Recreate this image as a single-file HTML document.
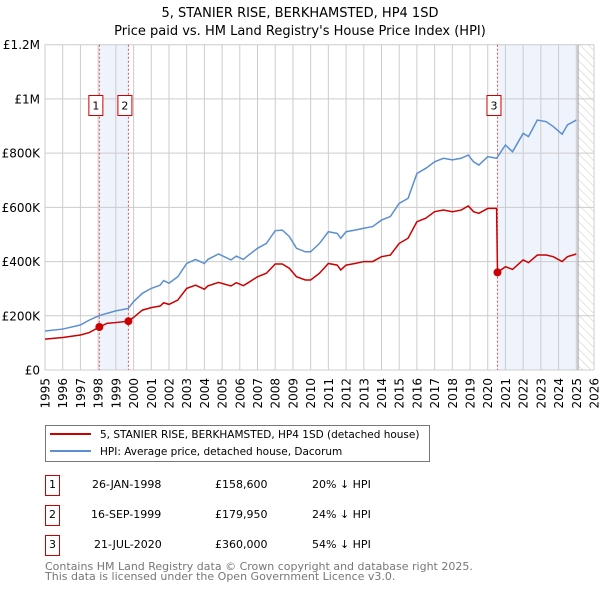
<!DOCTYPE html>
<html><head><meta charset="utf-8"><style>
body{margin:0;background:#fff;font-family:"DejaVu Sans","Liberation Sans",sans-serif;}
svg text{font-family:"DejaVu Sans","Liberation Sans",sans-serif;}
</style></head><body>
<svg id="c" width="600" height="590" xmlns="http://www.w3.org/2000/svg">
<defs><pattern id="hatch" width="6" height="6" patternUnits="userSpaceOnUse" patternTransform="rotate(-45)"><line x1="0" y1="0" x2="0" y2="6" stroke="#ccc" stroke-width="1"/></pattern></defs>
<text x="300" y="17" text-anchor="middle" font-size="13">5, STANIER RISE, BERKHAMSTED, HP4 1SD</text>
<text x="300" y="35" text-anchor="middle" font-size="13">Price paid vs. HM Land Registry's House Price Index (HPI)</text>
<g id="plot"></g>
<g>
<rect x="45.5" y="425.5" width="384" height="36" fill="#fff" stroke="#777"/>
<line x1="50" y1="434" x2="91" y2="434" stroke="#cc0000" stroke-width="2"/>
<text x="100" y="438" font-size="10.5">5, STANIER RISE, BERKHAMSTED, HP4 1SD (detached house)</text>
<line x1="50" y1="451" x2="91" y2="451" stroke="#5b8fd1" stroke-width="2"/>
<text x="100" y="455" font-size="10.5">HPI: Average price, detached house, Dacorum</text>
</g>
<g font-size="11">
<rect x="45.5" y="475.5" width="14" height="20" fill="#fff" stroke="#cc0000"/><text x="52.5" y="488" text-anchor="middle">1</text>
<text x="92" y="488">26-JAN-1998</text><text x="215" y="488">£158,600</text><text x="312" y="488">20% ↓ HPI</text>
<rect x="45.5" y="505.5" width="14" height="20" fill="#fff" stroke="#cc0000"/><text x="52.5" y="518" text-anchor="middle">2</text>
<text x="91" y="518">16-SEP-1999</text><text x="215" y="518">£179,950</text><text x="312" y="518">24% ↓ HPI</text>
<rect x="45.5" y="535.5" width="14" height="20" fill="#fff" stroke="#cc0000"/><text x="52.5" y="548" text-anchor="middle">3</text>
<text x="94" y="548">21-JUL-2020</text><text x="215" y="548">£360,000</text><text x="312" y="548">54% ↓ HPI</text>
</g>
<text x="45" y="570" font-size="11" fill="#777">Contains HM Land Registry data © Crown copyright and database right 2025.</text>
<text x="45" y="580" font-size="11" fill="#777">This data is licensed under the Open Government Licence v3.0.</text>
</svg>
<script>
const hpiYears=[1995,1996,1997,1997.5,1998,1998.5,1999,1999.7,2000,2000.5,2001,2001.5,2001.7,2002,2002.5,2003,2003.5,2004,2004.2,2004.8,2005.5,2005.8,2006.2,2006.5,2007,2007.5,2008,2008.4,2008.8,2009.2,2009.7,2010,2010.5,2011,2011.5,2011.7,2012,2012.5,2013,2013.5,2014,2014.5,2015,2015.5,2016,2016.5,2017,2017.5,2018,2018.5,2018.9,2019.2,2019.5,2020,2020.5,2021,2021.4,2022,2022.3,2022.8,2023.3,2023.7,2024.2,2024.5,2025];
const hpiValues=[144,151,166,184,199,209,218,227,252,283,301,313,330,320,344,393,408,393,408,428,406,420,408,424,449,467,514,516,492,449,436,436,467,510,504,486,510,516,523,529,553,566,615,633,725,744,768,781,775,781,793,768,756,787,781,830,805,873,861,922,916,898,870,904,922];
const priceYears=[1995,1996,1997,1997.5,1998.07,1998.5,1999,1999.71,2000,2000.5,2001,2001.5,2001.7,2002,2002.5,2003,2003.5,2004,2004.2,2004.8,2005.5,2005.8,2006.2,2006.5,2007,2007.5,2008,2008.4,2008.8,2009.2,2009.7,2010,2010.5,2011,2011.5,2011.7,2012,2012.5,2013,2013.5,2014,2014.5,2015,2015.5,2016,2016.5,2017,2017.5,2018,2018.5,2018.9,2019.2,2019.5,2020,2020.5,2020.55,2021,2021.4,2022,2022.3,2022.8,2023.3,2023.7,2024.2,2024.5,2025];
const priceValues=[114,120,129,138,158.6,172,175,179.95,194,221,230,236,248,242,258,301,313,298,310,323,310,322,311,323,344,357,391,391,375,344,332,332,357,393,387,369,387,393,400,400,418,424,467,486,547,560,584,590,584,590,605,584,578,596,596,360,381,371,406,396,424,424,418,400,418,428];
const saleYears=[1998.07,1999.71,2020.55];
const saleValues=[158.6,179.95,360];
const saleLabels=["1","2","3"];
const yTicks=[0,200,400,600,800,1000,1200];
const yTickLabels=["£0","£200K","£400K","£600K","£800K","£1M","£1.2M"];
const xTicks=[1995,1996,1997,1998,1999,2000,2001,2002,2003,2004,2005,2006,2007,2008,2009,2010,2011,2012,2013,2014,2015,2016,2017,2018,2019,2020,2021,2022,2023,2024,2025,2026];

const L=45,R=594,T=44.7,B=370;
const x=y=>L+(y-1995)/31*(R-L);
const yv=v=>B-v/1200*(B-T);
const g=document.getElementById('plot');
const NS="http://www.w3.org/2000/svg";
function mk(t,a){const e=document.createElementNS(NS,t);for(const k in a)e.setAttribute(k,a[k]);g.appendChild(e);return e;}
let e;
e=mk('rect',{x:x(saleYears[0]),y:T,width:x(saleYears[1])-x(saleYears[0]),height:B-T,fill:'#eef3fc'});


e=mk('rect',{x:x(saleYears[2]),y:T,width:x(2025.1)-x(saleYears[2]),height:B-T,fill:'#eef3fc'});


e=mk('rect',{x:x(2025.1),y:T,width:R-x(2025.1),height:B-T,fill:'url(#hatch)'});


xTicks.forEach(t=>{
 e=mk('line',{x1:x(t),x2:x(t),y1:T,y2:B,stroke:'#ccc','stroke-width':1});
 
 
 e=mk('text',{x:0,y:0,'font-size':12,'text-anchor':'end',transform:`translate(${x(t)+4.5},${B+8}) rotate(-90)`});
 e.textContent=t;
 
 
});
yTicks.forEach((t,i)=>{
 e=mk('line',{x1:L,x2:R,y1:yv(t),y2:yv(t),stroke:'#ccc','stroke-width':1});
 
 
 e=mk('text',{x:40,y:yv(t)+4.5,'font-size':12,'text-anchor':'end'});
 e.textContent=yTickLabels[i];
 
 
});
e=mk('line',{x1:x(2025.1),x2:x(2025.1),y1:T,y2:B,stroke:'#999','stroke-width':1});


saleYears.forEach((s,i)=>{
 e=mk('line',{x1:x(s),x2:x(s),y1:T,y2:B,stroke:'#e05050','stroke-width':1,'stroke-dasharray':'2,2'});
 
 
});
e=mk('polyline',{points:hpiYears.map((t,i)=>x(t)+','+yv(hpiValues[i])).join(' '),fill:'none',stroke:'#5b8fd1','stroke-width':1.5});


e=mk('polyline',{points:priceYears.map((t,i)=>x(t)+','+yv(priceValues[i])).join(' '),fill:'none',stroke:'#cc0000','stroke-width':1.5});


saleYears.forEach((s,i)=>{
 e=mk('circle',{cx:x(s),cy:yv(saleValues[i]),r:4,fill:'#cc0000'});
 
 
 e=mk('rect',{x:x(s)-10.5,y:95.5,width:14,height:20,fill:'#fff',stroke:'#cc0000'});
 
 
 e=mk('text',{x:x(s)-3.5,y:109.5,'font-size':11,'text-anchor':'middle'});
 e.textContent=saleLabels[i];
 
 
});
</script>
</body></html>
